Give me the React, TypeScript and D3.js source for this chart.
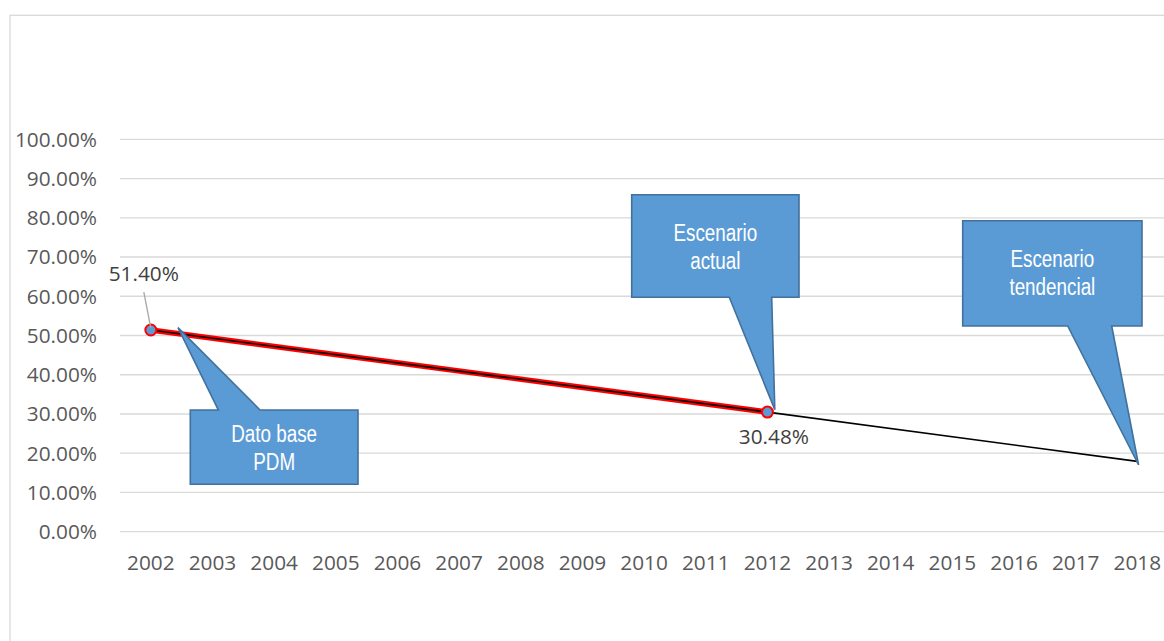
import React, { useEffect, useRef } from 'react'
import * as d3 from 'd3'

const years = ['2002', '2003', '2004', '2005', '2006', '2007', '2008', '2009', '2010', '2011', '2012', '2013', '2014', '2015', '2016', '2017', '2018']
const yTicks = [0, 0.1, 0.2, 0.3, 0.4, 0.5, 0.6, 0.7, 0.8, 0.9, 1]

// measured series (only two years known)
const seriesYears = ['2002', '2012']
const seriesValues = [0.514, 0.3048]

// linear trend line, ends
const trendYears = [2002, 2018]
const trendValues = [0.514, 0.1793]

const calloutTexts = [['Dato base', 'PDM'], ['Escenario', 'actual'], ['Escenario', 'tendencial']]
// tip position in data units (year, value)
const calloutTips = [[2002.44, 0.52], [2012.12, 0.311], [2018.02, 0.17]]

const width = 1164
const height = 641

const App = () => {
  const svgRef = useRef<SVGSVGElement>(null)

  useEffect(() => {
    const svg = d3.select(svgRef.current)
    svg.selectAll('*').remove()

    const left = 120
    const right = 1168.2
    const top = 139.3
    const bottom = 531.7

    // frame
    svg
      .append('rect')
      .attr('x', 10)
      .attr('y', 15.3)
      .attr('width', width)
      .attr('height', height)
      .attr('fill', 'none')
      .attr('stroke', '#d9d9d9')
      .attr('stroke-width', 1.3)

    const x = d3.scalePoint<string>().domain(years).range([left, right]).padding(0.5)
    const xNum = d3
      .scaleLinear()
      .domain([2002, 2018])
      .range([x('2002') as number, x('2018') as number])
    const y = d3.scaleLinear().domain([0, 1]).range([bottom, top])

    // gridlines
    svg
      .append('g')
      .selectAll('line')
      .data(yTicks)
      .enter()
      .append('line')
      .attr('x1', left)
      .attr('x2', width)
      .attr('y1', d => y(d))
      .attr('y2', d => y(d))
      .attr('stroke', '#d9d9d9')
      .attr('stroke-width', 1.3)

    const fmt = d3.format('.2%')
    const font = "'Open Sans', 'Segoe UI', sans-serif"

    svg
      .append('g')
      .selectAll('text')
      .data(yTicks)
      .enter()
      .append('text')
      .attr('x', 97)
      .attr('y', d => y(d))
      .attr('dy', '0.35em')
      .attr('text-anchor', 'end')
      .attr('font-family', font)
      .attr('font-size', 20.8)
      .attr('fill', '#595959')
      .text(d => fmt(d))

    svg
      .append('g')
      .selectAll('text')
      .data(years)
      .enter()
      .append('text')
      .attr('x', d => x(d) as number)
      .attr('y', 563)
      .attr('dy', '0.35em')
      .attr('text-anchor', 'middle')
      .attr('font-family', font)
      .attr('font-size', 20.8)
      .attr('fill', '#595959')
      .text(d => d)

    const pts = seriesYears.map((yr, i) => [x(yr) as number, y(seriesValues[i])] as [number, number])

    // red series line
    svg
      .append('path')
      .attr('d', d3.line()(pts))
      .attr('stroke', '#ff0000')
      .attr('stroke-width', 5.5)
      .attr('fill', 'none')
      .attr('stroke-linecap', 'round')

    // trend line
    const trendPts = trendYears.map((yr, i) => [xNum(yr), y(trendValues[i])] as [number, number])
    svg
      .append('path')
      .attr('d', d3.line()(trendPts))
      .attr('stroke', '#000000')
      .attr('stroke-width', 1.6)
      .attr('fill', 'none')

    // markers
    svg
      .append('g')
      .selectAll('circle')
      .data(pts)
      .enter()
      .append('circle')
      .attr('cx', d => d[0])
      .attr('cy', d => d[1])
      .attr('r', 5.5)
      .attr('fill', '#5b9bd5')
      .attr('stroke', '#ff0000')
      .attr('stroke-width', 2)

    // data labels
    const p0 = pts[0]
    svg
      .append('line')
      .attr('x1', p0[0] - 7)
      .attr('y1', p0[1] - 38)
      .attr('x2', p0[0])
      .attr('y2', p0[1] - 2)
      .attr('stroke', '#a6a6a6')
      .attr('stroke-width', 1.3)
    svg
      .append('text')
      .attr('x', p0[0] - 7)
      .attr('y', p0[1] - 56)
      .attr('dy', '0.35em')
      .attr('text-anchor', 'middle')
      .attr('font-family', font)
      .attr('font-size', 20.8)
      .attr('fill', '#404040')
      .text(fmt(seriesValues[0]))

    const p1 = pts[1]
    svg
      .append('text')
      .attr('x', p1[0] + 6.5)
      .attr('y', p1[1] + 25)
      .attr('dy', '0.35em')
      .attr('text-anchor', 'middle')
      .attr('font-family', font)
      .attr('font-size', 20.8)
      .attr('fill', '#404040')
      .text(fmt(seriesValues[1]))

    // callouts: box [x0, y0, x1, y1], pointer base [xa, xb] on the box edge
    const boxes = [
      { box: [190.3, 410, 358, 484.3], base: [218.3, 260], edge: 'top' },
      { box: [631.7, 194.7, 799, 297.3], base: [729.3, 771.7], edge: 'bottom' },
      { box: [962.7, 220.7, 1142, 326], base: [1067.7, 1111.7], edge: 'bottom' },
    ]

    boxes.forEach((b, i) => {
      const [x0, y0, x1, y1] = b.box
      const tx = xNum(calloutTips[i][0])
      const ty = y(calloutTips[i][1])
      const [ba, bb] = b.base
      let pathD = ''
      if (b.edge === 'top') {
        pathD = `M${x0},${y0}L${ba},${y0}L${tx},${ty}L${bb},${y0}L${x1},${y0}L${x1},${y1}L${x0},${y1}Z`
      } else {
        pathD = `M${x0},${y0}L${x1},${y0}L${x1},${y1}L${bb},${y1}L${tx},${ty}L${ba},${y1}L${x0},${y1}Z`
      }
      svg
        .append('path')
        .attr('d', pathD)
        .attr('fill', '#5b9bd5')
        .attr('stroke', '#41719c')
        .attr('stroke-width', 1.6)
        .attr('stroke-linejoin', 'miter')

      const cx = (x0 + x1) / 2
      const lines = calloutTexts[i]
      const cy = b.edge === 'top' ? y0 + 24 : y0 + 38.5
      // narrow look: squeeze Liberation Sans horizontally
      lines.forEach((t, j) => {
        svg
          .append('text')
          .attr('transform', `translate(${cx},${cy + j * 27.5}) scale(0.82,1)`)
          .attr('dy', '0.35em')
          .attr('text-anchor', 'middle')
          .attr('font-family', "'Liberation Sans', Arial, sans-serif")
          .attr('font-size', 23)
          .attr('fill', '#ffffff')
          .text(t)
      })
    })
  }, [])

  return (
    <svg
      ref={svgRef}
      width={width}
      height={height}
      style={{ position: 'absolute', left: 0, top: 0, background: '#ffffff' }}
    />
  )
}

export default App
